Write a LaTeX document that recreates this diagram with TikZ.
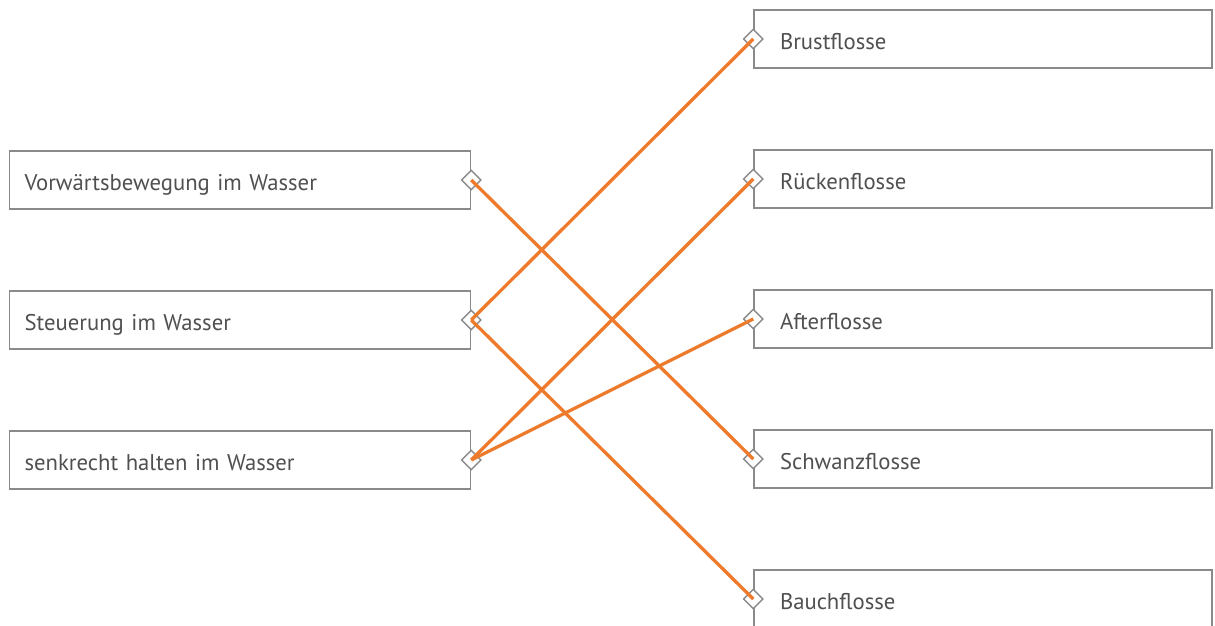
\documentclass[tikz,border=0pt]{standalone}
\usepackage{fontspec}
\setmainfont{PT Sans}
\usetikzlibrary{shapes.geometric}
\definecolor{boxgray}{HTML}{8A8A8A}
\definecolor{txtgray}{HTML}{505050}
\definecolor{lineorange}{HTML}{EE7A2C}
\tikzset{
  boxbase/.style={draw=boxgray, line width=1.5pt, minimum height=58pt, align=left, font=\fontsize{22.7}{26}\selectfont, text=txtgray, text height=22pt, text depth=2pt},
  leftbox/.style={boxbase, minimum width=460pt, text width=431pt, inner xsep=15pt},
  rightbox/.style={boxbase, minimum width=458pt, text width=406pt, inner xsep=26pt},
  dia/.style={diamond, draw=boxgray, fill=white, line width=1.4pt, minimum width=20pt, minimum height=20pt, inner sep=0pt},
  link/.style={draw=lineorange, line width=3.3pt}
}
\begin{document}
\begin{tikzpicture}[x=1pt,y=-1pt]
\useasboundingbox (0,0) rectangle (1215,626);
\fill[white] (0,0) rectangle (1215,626);
\clip (0,0) rectangle (1215,626);
\node[leftbox] (L1) at (240,180) {Vorwärtsbewegung im Wasser};
\node[leftbox] (L2) at (240,320) {Steuerung im Wasser};
\node[leftbox] (L3) at (240,460) {senkrecht halten im Wasser};
\node[rightbox] (R1) at (983,39) {Brustflosse};
\node[rightbox] (R2) at (983,179) {Rückenflosse};
\node[rightbox] (R3) at (983,319) {Afterflosse};
\node[rightbox] (R4) at (983,459) {Schwanzflosse};
\node[rightbox] (R5) at (983,599) {Bauchflosse};
\foreach \n in {L1,L2,L3} \node[dia] (d\n) at (\n.east) {};
\foreach \n in {R1,R2,R3,R4,R5} \node[dia] (d\n) at (\n.west) {};
\draw[link] (dL1.center) -- (dR4.center);
\draw[link] (dL2.center) -- (dR1.center);
\draw[link] (dL2.center) -- (dR5.center);
\draw[link] (dL3.center) -- (dR2.center);
\draw[link] (dL3.center) -- (dR3.center);
\end{tikzpicture}
\end{document}
